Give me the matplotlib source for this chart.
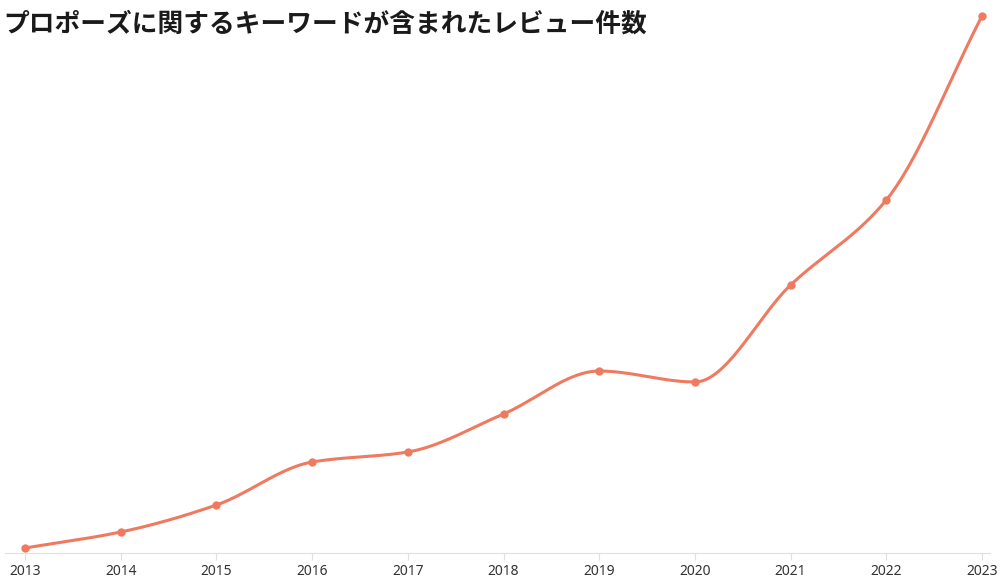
import numpy as np
import matplotlib.pyplot as plt

plt.rcParams['font.family'] = ['Noto Sans CJK JP', 'DejaVu Sans']

years  = [2013, 2014, 2015, 2016, 2017, 2018, 2019, 2020, 2021, 2022, 2023]
counts = [5, 21, 48, 91, 101, 139, 182, 171, 268, 353, 537]
title  = 'プロポーズに関するキーワードが含まれたレビュー件数'
color  = '#EF7A60'


def monotone_curve(x, y, n=40):
    # Fritsch-Carlson monotone cubic, just for drawing the smooth line
    x = np.asarray(x, float)
    y = np.asarray(y, float)
    h = np.diff(x)
    d = np.diff(y) / h
    m = np.zeros_like(y)
    m[0], m[-1] = d[0], d[-1]
    for i in range(1, len(x) - 1):
        if d[i - 1] * d[i] <= 0:
            m[i] = 0
        else:
            w1 = 2 * h[i] + h[i - 1]
            w2 = h[i] + 2 * h[i - 1]
            m[i] = (w1 + w2) / (w1 / d[i - 1] + w2 / d[i])
    xs, ys = [], []
    for i in range(len(x) - 1):
        t = np.linspace(0, 1, n)
        h00 = 2*t**3 - 3*t**2 + 1
        h10 = t**3 - 2*t**2 + t
        h01 = -2*t**3 + 3*t**2
        h11 = t**3 - t**2
        xs.append(x[i] + t * h[i])
        ys.append(h00*y[i] + h10*h[i]*m[i] + h01*y[i+1] + h11*h[i]*m[i+1])
    return np.concatenate(xs), np.concatenate(ys)


fig = plt.figure(figsize=(10.01, 5.79), dpi=100)
ax = fig.add_axes([5/1001, 1 - 553/579, 985/1001, 543/579])

cx, cy = monotone_curve(years, counts)
ax.plot(cx, cy, color=color, lw=2.2, solid_capstyle='round')
ax.plot(years, counts, 'o', color=color, ms=5)

ax.set_xlim(2013 - 20/95.7, 2023 + 8/95.7)
ax.set_ylim(0, 543)
ax.set_xticks(years)
ax.set_xticklabels([str(y) for y in years], fontsize=10, color='#333333',
                   family=['Noto Sans', 'DejaVu Sans'])
ax.set_yticks([])
for s in ['left', 'right', 'top']:
    ax.spines[s].set_visible(False)
ax.spines['bottom'].set_color('#E0E0E0')
ax.tick_params(axis='x', length=5, color='#E0E0E0', pad=3)

fig.text(3/1001, 1 - 24/579, title, fontsize=18.5, fontweight='bold',
         color='#1a1a1a', va='center', ha='left')

fig.savefig('out.png', dpi=100)
